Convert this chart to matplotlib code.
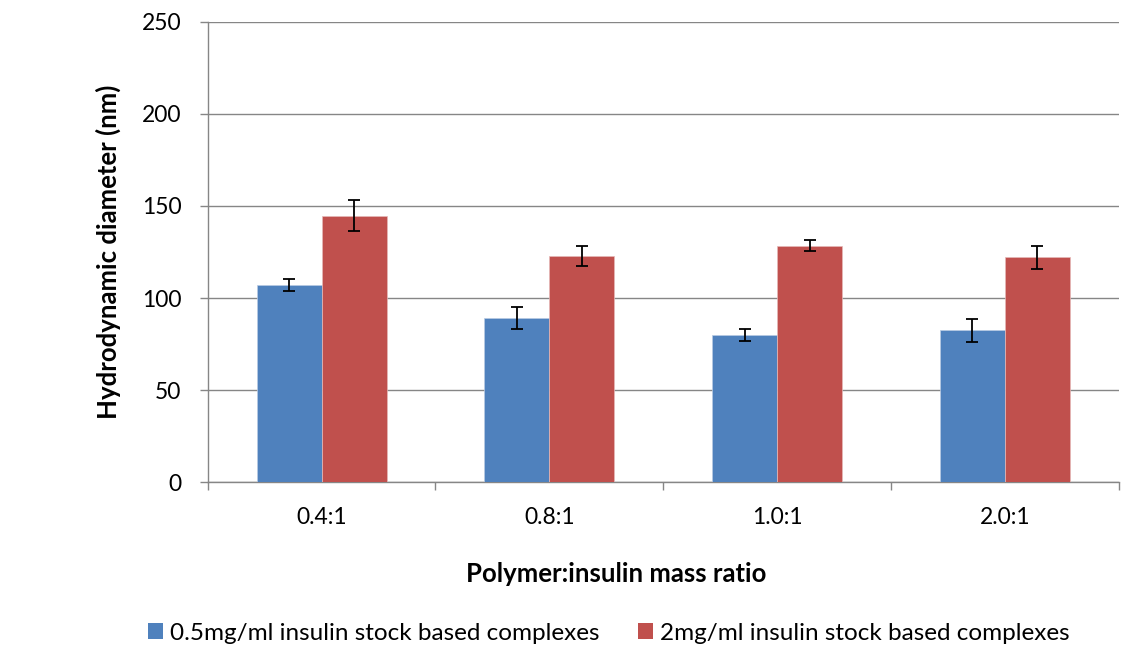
import numpy as np
import matplotlib
matplotlib.use("Agg")
import matplotlib.pyplot as plt
from matplotlib.patches import Patch

# Particle size of the complexes at each polymer:insulin ratio
ratios = ["0.4:1", "0.8:1", "1.0:1", "2.0:1"]
low_stock = [107.0, 89.2, 80.0, 82.4]
low_stock_err = [3.2, 6.0, 3.1, 6.2]
high_stock = [144.8, 122.8, 128.5, 122.2]
high_stock_err = [8.2, 5.2, 3.0, 6.2]
series_names = ["0.5mg/ml insulin stock based complexes",
                "2mg/ml insulin stock based complexes"]
y_ticks = [0, 50, 100, 150, 200, 250]

blue = "#4F81BD"
red = "#C0504D"
grey = "#868686"

plt.rcParams["font.family"] = ["Lato", "DejaVu Sans"]

fig = plt.figure(figsize=(11.21, 6.48), dpi=100)
ax = fig.add_axes([0.1853, 0.2557, 0.8127, 0.7108])

x = np.arange(len(ratios)) + 0.5
width = 1 / 3.5

err_style = dict(ecolor="black", elinewidth=1.3, capsize=4.5, capthick=1.3)
ax.bar(x - width / 2, low_stock, width, color=blue, edgecolor="#b9cbe4",
       linewidth=0.5, yerr=low_stock_err, error_kw=err_style, zorder=3)
ax.bar(x + width / 2, high_stock, width, color=red, edgecolor="#e6b9b8",
       linewidth=0.5, yerr=high_stock_err, error_kw=err_style, zorder=3)

ax.set_xlim(0, len(ratios))
ax.set_ylim(0, 250)
ax.set_yticks(y_ticks)
ax.grid(axis="y", color=grey, linewidth=1.0, zorder=0)

# category boundaries carry the tick marks, labels sit between them
ax.set_xticks(np.arange(len(ratios) + 1))
ax.set_xticklabels([])
ax.set_xticks(x, minor=True)
ax.set_xticklabels(ratios, minor=True)
ax.tick_params(axis="x", which="major", length=6, width=1, color=grey)
ax.tick_params(axis="x", which="minor", length=0, pad=18, labelsize=16.5)
ax.tick_params(axis="y", length=6, width=1, color=grey, pad=13, labelsize=16.5)

for side in ["top", "right"]:
    ax.spines[side].set_visible(False)
for side in ["left", "bottom"]:
    ax.spines[side].set_color(grey)
    ax.spines[side].set_linewidth(1.0)

ax.set_ylabel("Hydrodynamic diameter (nm)", fontsize=18.5, fontweight="bold",
              labelpad=15)
fig.text(616 / 1121, 1 - 582 / 648, "Polymer:insulin mass ratio",
         ha="center", va="baseline", fontsize=18.5, fontweight="bold")

handles = [Patch(facecolor=blue), Patch(facecolor=red)]
fig.legend(handles, series_names, loc="center", ncol=2,
           bbox_to_anchor=(609 / 1121, 1 - 633 / 648), frameon=False,
           fontsize=17.5, handlelength=0.6, handleheight=0.6,
           handletextpad=0.3, columnspacing=1.6)

fig.savefig("out.png", dpi=100)
